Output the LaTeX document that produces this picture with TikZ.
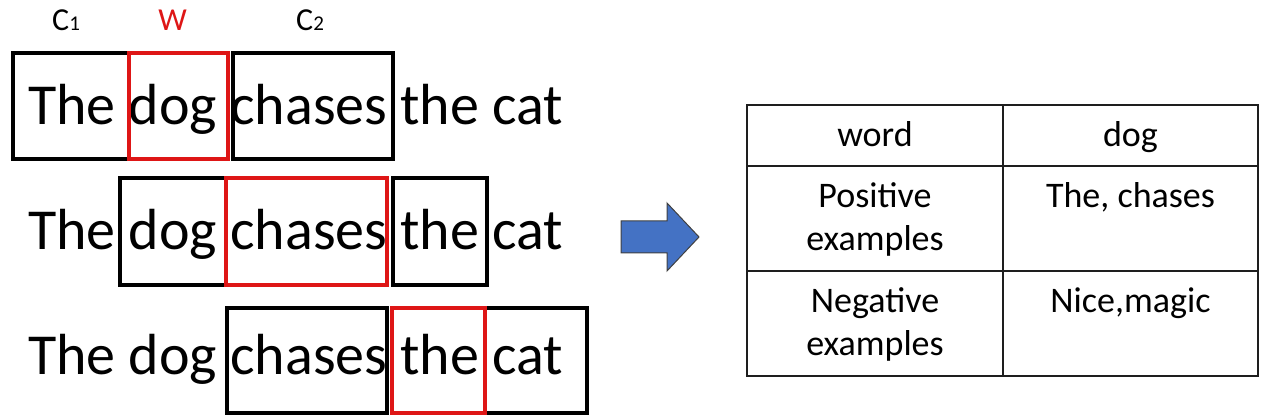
\documentclass[tikz,border=0pt]{standalone}
\usepackage{fontspec}
\setmainfont{Carlito}
\usetikzlibrary{fit}
\definecolor{boxred}{RGB}{222,22,22}
\definecolor{arrowblue}{RGB}{68,114,196}
\definecolor{gridgray}{RGB}{30,30,30}
\tikzset{
  sent/.style={anchor=base west, inner sep=0pt, font=\fontsize{58}{70}\selectfont},
  wbox/.style={draw=black, line width=4.6pt, inner sep=0pt, rectangle},
  rbox/.style={draw=boxred, line width=4.6pt, inner sep=0pt, rectangle},
  lbl/.style={inner sep=0pt, font=\fontsize{32}{36}\selectfont},
  celltxt/.style={anchor=base, inner sep=0pt, font=\fontsize{36}{43}\selectfont},
  grid/.style={draw=gridgray, line width=2pt},
  bigarrow/.style={fill=arrowblue, draw=black!75, line width=1pt, line join=miter}
}
\newcommand{\smalldigit}[1]{{\fontsize{21}{22}\selectfont #1}}
\begin{document}
\begin{tikzpicture}[x=1pt, y=-1pt]
\useasboundingbox (0,0) rectangle (1262,419);

% labels
\node[lbl, anchor=base west] (c1) at (52,31) {C\smalldigit{1}};
\node[lbl, anchor=base, text=boxred] (w) at (172.5,31) {W};
\node[lbl, anchor=base west] (c2) at (296,31) {C\smalldigit{2}};

% sentences
\node[sent] (s1) at (28,125) {The dog chases the cat};
\node[sent] (s2) at (28,250) {The dog chases the cat};
\node[sent] (s3) at (28,375) {The dog chases the cat};

% row 1 boxes
\node[wbox, fit={(13,53) (129,159)}] (b1a) {};
\node[wbox, fit={(233,53) (393,159)}] (b1c) {};
\node[rbox, fit={(129,53) (228,159)}] (b1w) {};

% row 2 boxes
\node[wbox, fit={(120,178) (226,285)}] (b2a) {};
\node[wbox, fit={(393,178) (487,285)}] (b2c) {};
\node[rbox, fit={(226,178) (387,285)}] (b2w) {};

% row 3 boxes
\node[wbox, fit={(227,308) (387,413)}] (b3a) {};
\node[wbox, fit={(485,308) (587,413)}] (b3c) {};
\node[rbox, fit={(392,308) (485,413)}] (b3w) {};

% block arrow
\draw[bigarrow] (621,221) -- (667,221) -- (667,203) -- (699,237) -- (667,271) -- (667,253) -- (621,253) -- cycle;

% table
\coordinate (tl) at (747,105);
\coordinate (br) at (1258,376);
\draw[grid] (tl) rectangle (br);
\draw[grid] (1003,105) -- (1003,376);
\draw[grid] (747,166) -- (1258,166);
\draw[grid] (747,271) -- (1258,271);

\node[celltxt] (h1) at (875,146.5) {word};
\node[celltxt] (h2) at (1130.5,146.5) {dog};
\node[celltxt] (p1) at (875,208) {Positive};
\node[celltxt] (p2) at (875,251) {examples};
\node[celltxt] (pv) at (1130.5,208) {The, chases};
\node[celltxt] (n1) at (875,313) {Negative};
\node[celltxt] (n2) at (875,356) {examples};
\node[celltxt] (nv) at (1130.5,313) {Nice,magic};
\end{tikzpicture}
\end{document}
